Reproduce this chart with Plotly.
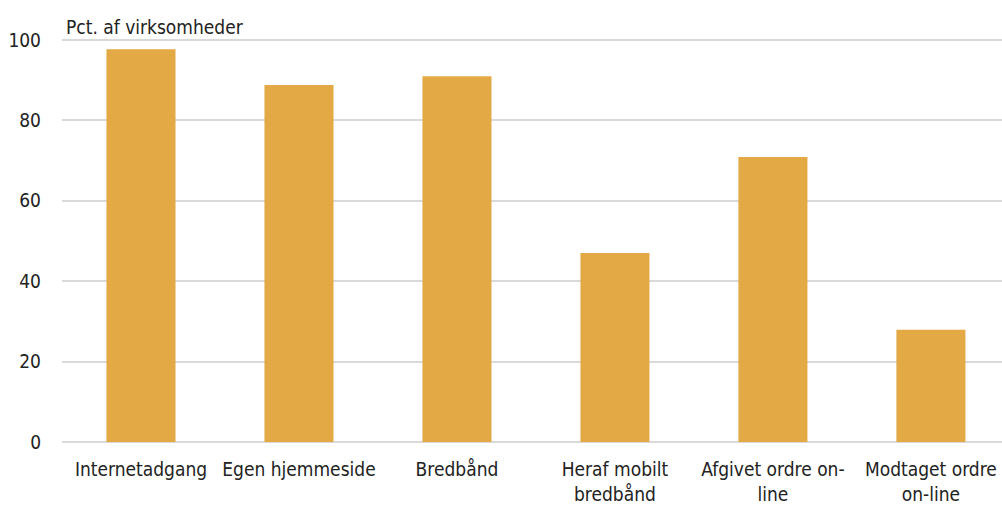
import plotly.graph_objects as go

categories = ["Internetadgang", "Egen hjemmeside", "Bredbånd", "Heraf mobilt<br>bredbånd",
              "Afgivet ordre on-<br>line", "Modtaget ordre<br>on-line"]
values = [97.7, 88.8, 91.0, 47.0, 70.9, 27.9]
yticks = [0, 20, 40, 60, 80, 100]

FONT = "DejaVu Sans Condensed, Liberation Sans Narrow, sans-serif"

fig = go.Figure(go.Bar(x=list(range(len(categories))), y=values, marker_color="#E3A945",
                       marker_line_width=0))
fig.update_layout(
    width=1002, height=507,
    margin=dict(l=62, r=0, t=36, b=61),
    paper_bgcolor="white", plot_bgcolor="white",
    bargap=0.563,
    showlegend=False,
    font=dict(family=FONT, size=19, color="#222222"),
    xaxis=dict(range=[-0.5, 5.45], tickmode="array", tickvals=list(range(len(categories))),
               ticktext=categories, showgrid=False, zeroline=False, showline=False,
               ticks="", tickfont=dict(size=19), automargin=False, ticklabelstandoff=10),
    yaxis=dict(range=[-1, 101], tickvals=yticks, showgrid=True, gridcolor="#D9D9D9",
               gridwidth=2, zeroline=False, showline=False, ticks="",
               ticklabelstandoff=20, tickfont=dict(size=19), automargin=False),
    annotations=[dict(text="Pct. af virksomheder", xref="paper", yref="paper", x=0.0, y=1.0,
                      xanchor="left", yanchor="bottom", showarrow=False, yshift=-4, xshift=2,
                      font=dict(family=FONT, size=19, color="#222222"))],
)
fig.write_html("out.html", config={"displayModeBar": False},
               post_script="document.body.style.margin='0';document.body.style.overflow='hidden';")
